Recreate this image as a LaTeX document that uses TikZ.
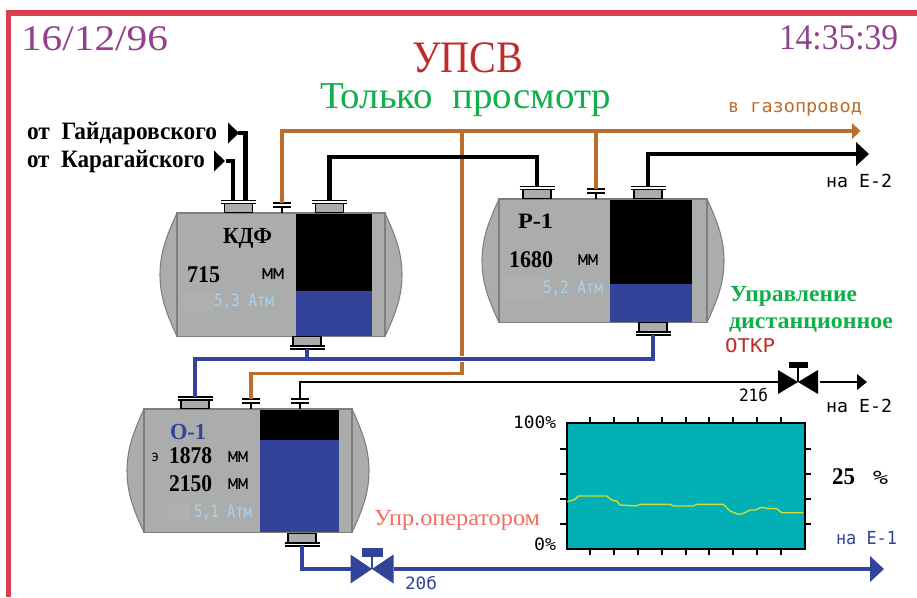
\documentclass[tikz,border=0pt]{standalone}
\usepackage{graphicx}
\usepackage{fontspec}
\setmainfont{Liberation Serif}
\newfontfamily\pixfont{DejaVu Sans Mono}
\definecolor{frameR}{HTML}{DB4052}
\definecolor{dateP}{HTML}{93418F}
\definecolor{titleR}{HTML}{BE2D2A}
\definecolor{okG}{HTML}{0FB04A}
\definecolor{gasO}{HTML}{BC6F2C}
\definecolor{liqB}{HTML}{334399}
\definecolor{tankG}{HTML}{ABADAC}
\definecolor{edgeG}{HTML}{7C7F7E}
\definecolor{atmB}{HTML}{A9D3EE}
\definecolor{oprR}{HTML}{F46D5F}
\definecolor{chartT}{HTML}{00B0B4}
\definecolor{lineY}{HTML}{D8DC30}
\definecolor{lightG}{HTML}{AFB1B0}
\newlength{\pxu}\setlength{\pxu}{0.75pt}
% name, x, baseline, width, size, font/colour commands, text
\newcommand{\lab}[7]{\node[txt] (#1) at (#2,#3) {\resizebox{#4\pxu}{\height}{\fontsize{#5\pxu}{#5\pxu}\selectfont #6{}#7}};}
\newcommand{\tankbody}[6]{% name,x0,y0,xsplit,xblackend,ylevel
  \pgfmathsetmacro{\xa}{#2}\pgfmathsetmacro{\ya}{#3}
  \pgfmathsetmacro{\xb}{#2+208}\pgfmathsetmacro{\yb}{#3+123.5}
  \pgfmathsetmacro{\ym}{#3+61.75}
  \draw[edgeG,line width=0.8pt,fill=tankG] (\xa,\ya) .. controls (\xa-9,\ya+20) and (\xa-17,\ya+38) .. (\xa-17,\ym)
     .. controls (\xa-17,\ym+24) and (\xa-9,\yb-20) .. (\xa,\yb);
  \draw[edgeG,line width=0.8pt,fill=tankG] (\xb,\ya) .. controls (\xb+9,\ya+20) and (\xb+17,\ya+38) .. (\xb+17,\ym)
     .. controls (\xb+17,\ym+24) and (\xb+9,\yb-20) .. (\xb,\yb);
  \draw[edgeG,line width=0.8pt,fill=tankG] (\xa,\ya) rectangle (\xb,\yb);
  \coordinate (#1) at (\xa,\ya);
  \fill[black] (#4,\ya+0.5) rectangle (#5,#6);
  \fill[liqB] (#4,#6) rectangle (#5,\yb-0.5);
}
% name,xc,rect top,rect bottom,line1,line2
\newcommand{\flange}[6]{%
  \node[flangebox,minimum height={(#4-#3)*0.75pt}] (#1) at (#2,{(#3+#4)/2}) {};
  \draw[flangeln] (#2-17.5,#5) -- (#2+17.5,#5) (#2-17.5,#6) -- (#2+17.5,#6);
}
% name,xc,ytop,ytank
\newcommand{\capac}[4]{%
  \draw[flangeln] (#2-9,#3) -- (#2+9,#3) (#2-9,#3+4) -- (#2+9,#3+4) (#2,#3+4) -- (#2,#4);
  \coordinate (#1) at (#2,#3);
}
% name,xc,yc,halfw,halfh,colour,actuator half width,actuator top,actuator bottom
\newcommand{\valve}[9]{%
  \coordinate (#1) at (#2,#3);
  \coordinate (#1L) at (#2-#4,#3);
  \coordinate (#1R) at (#2+#4,#3);
  \fill[#6] (#2-#4,#3-#5) -- (#2,#3) -- (#2-#4,#3+#5) -- cycle;
  \fill[#6] (#2+#4,#3-#5) -- (#2,#3) -- (#2+#4,#3+#5) -- cycle;
  \fill[#6] (#2-#7,#8) rectangle (#2+#7,#9);
  \draw[#6,line width=0.8pt] (#2,#9) -- (#2,#3);
}
% tip pointing right: base x,yc,length,half height,colour
\newcommand{\tip}[5]{\fill[#5] (#1,#2-#4) -- (#1+#3,#2) -- (#1,#2+#4) -- cycle;}
\tikzset{
  x=0.75pt,y=-0.75pt,
  txt/.style={anchor=base west,inner sep=0pt,outer sep=0pt},
  flangebox/.style={draw=black,line width=1pt,fill=tankG,minimum width=21pt,inner sep=0pt,outer sep=0pt},
  flangeln/.style={black,line width=1.2pt},
  gaspipe/.style={gasO,line width=2.3pt},
  blkpipe/.style={black,line width=3.2pt},
  thinpipe/.style={black,line width=2pt},
  liqpipe/.style={liqB,line width=3pt},
  halo/.style={white,line width=5pt},
  chartln/.style={black,line width=1pt},
}
\begin{document}
\begin{tikzpicture}
\useasboundingbox (0,0) rectangle (917,597);
\fill[white] (0,0) rectangle (917,597);
% frame
\fill[frameR] (5.5,10) rectangle (917,15.5);
\fill[frameR] (5.5,10) rectangle (11,597);

% tanks
\tankbody{tk}{177}{213}{295.5}{372}{291}
\fill[lightG] (183,293) rectangle (214,311);
\tankbody{tp}{499}{199}{609.5}{692}{284}
\fill[lightG] (505,278) rectangle (543,298);
\tankbody{to}{144}{409}{260}{339}{439.5}
\fill[lightG] (169,505) rectangle (190,521);

% flanges
\flange{fka}{238.5}{203.5}{212.5}{200.5}{203.5}
\flange{fkb}{329.5}{203.5}{212.5}{200.5}{203.5}
\flange{fkc}{307}{336.5}{346}{346}{349}
\flange{fpa}{537}{189.5}{198.5}{186.5}{189.5}
\flange{fpb}{648}{189.5}{198.5}{186.5}{189.5}
\flange{fpc}{653}{322.5}{332}{332}{335}
\flange{foa}{195}{399.5}{408.5}{397}{400}
\flange{foc}{302}{533.5}{543}{543}{546}
% capacitor taps
\capac{cka}{282}{203}{213}
\capac{cpa}{596}{189}{199}
\capac{coa}{251}{399}{409}
\capac{cob}{300}{399}{409}

% free ends
\coordinate (gasEnd) at (853,131);
\coordinate (e2End) at (857,154);
\coordinate (gaidEnd) at (238,133);
\coordinate (karEnd) at (226,161);
\coordinate (oEnd) at (870,569);
\coordinate (thinEnd) at (857,382);

% gas lines
\draw[gaspipe] (cka) -- (282,131) -- (gasEnd);
\draw[gaspipe] (462,131) -- (462,373.5) -- (251,373.5) -- (coa);
\draw[gaspipe] (596,131) -- (cpa);
\tip{852}{131}{8.5}{8}{gasO}

% black pipes
\draw[blkpipe] (gaidEnd) -- (245.5,133) -- (245.5,201);
\draw[blkpipe] (karEnd) -- (233,161) -- (233,201);
\tip{228}{133}{11}{10.5}{black}
\tip{214}{161}{11}{10.5}{black}
\draw[blkpipe] (329.5,201) -- (329.5,157) -- (537,157) -- (537,187);
\draw[blkpipe] (648,187) -- (648,154) -- (e2End);
\tip{856}{154}{13}{12}{black}

% liquid lines with a white halo where they cross the gas line
\draw[halo] (450,359) -- (474,359);
\draw[liqpipe] (653,335) -- (653,359) -- (195,359) -- (195,397);
\draw[liqpipe] (307,349) -- (307,359);

% thin black line and valve 21
\valve{vb}{798}{382}{20}{12}{black}{9.5}{362}{368}
\draw[thinpipe] (cob) -- (300,382) -- (vbL);
\draw[thinpipe] (vbR) ++(2,0) -- (thinEnd);
\tip{857}{382}{10}{8}{black}

% liquid line and valve 20
\valve{va}{372}{569}{21.5}{14.5}{liqB}{10.5}{548}{557}
\draw[liqpipe] (302,546) -- (302,569) -- (vaL);
\draw[liqpipe] (vaR) -- (oEnd);
\tip{870}{569}{14}{13}{liqB}

% chart
\node[draw=black,line width=1.1pt,fill=chartT,minimum width={238*0.75pt},minimum height={126*0.75pt},inner sep=0pt] (chart) at (686,486) {};
\foreach \tx in {590,614,638,662,686,709,733,757,781}{
  \draw[chartln] (\tx,417) -- (\tx,423) (\tx,549) -- (\tx,555);
}
\foreach \ty in {449,474,499,524}{
  \draw[chartln] (560,\ty) -- (567,\ty) (805,\ty) -- (811,\ty);
}
\draw[lineY,line width=1pt,x=0.25pt,y=-0.25pt,shift={(460*3,300*3)}]
  (322,605)--(345,598)--(355,588)--(440,588)--(455,600)--(470,603)--(480,615)--(530,618)--(540,613)--(630,613)--(640,618)--(700,618)--(710,613)--(790,613)--(810,633)--(835,643)--(850,640)--(870,630)--(885,630)--(905,622)--(920,625)--(950,626)--(965,638)--(1030,638);

% texts
\lab{date}{21}{50}{147}{36}{\color{dateP}}{16/12/96}
\lab{time}{779}{49}{119}{36}{\color{dateP}}{14:35:39}
\lab{title}{412}{72}{111}{45}{\color{titleR}}{УПСВ}
\lab{mode}{320}{108}{291}{38}{\color{okG}}{Только\ \ просмотр}
\lab{gaid}{27}{139}{190}{25}{\bfseries}{от\ \ Гайдаровского}
\lab{kar}{27}{167}{178}{25}{\bfseries}{от\ \ Карагайского}
\lab{gasl}{728}{112}{134}{18}{\pixfont\color{gasO}}{в газопровод}
\lab{e2a}{826}{187}{66}{18}{\pixfont}{на Е-2}
\lab{kdf}{223}{243}{49}{23}{\bfseries}{КДФ}
\lab{kv}{187}{282}{33}{24}{\bfseries}{715}
\lab{kmm}{262}{279}{22}{20}{\pixfont}{мм}
\lab{katm}{214}{306}{60}{17}{\pixfont\color{atmB}}{5,3 Атм}
\lab{pn}{518}{228}{35}{22}{\bfseries}{Р-1}
\lab{pv}{509}{267}{44}{24}{\bfseries}{1680}
\lab{pmm}{578}{265}{20}{20}{\pixfont}{мм}
\lab{patm}{543}{293}{60}{17}{\pixfont\color{atmB}}{5,2 Атм}
\lab{on}{170}{439}{36}{23}{\bfseries\color{liqB}}{О-1}
\lab{oe}{151}{461}{8}{15}{\pixfont}{э}
\lab{ov}{169}{463}{43}{24}{\bfseries}{1878}
\lab{omm}{228}{462}{20}{20}{\pixfont}{мм}
\lab{ow}{169}{491}{43}{24}{\bfseries}{2150}
\lab{omb}{228}{489}{20}{20}{\pixfont}{мм}
\lab{oatm}{194}{517}{58}{17}{\pixfont\color{atmB}}{5,1 Атм}
\lab{opr}{374}{525}{166}{23}{\color{oprR}}{Упр.оператором}
\lab{ctl}{730}{301}{127}{23}{\bfseries\color{okG}}{Управление}
\lab{ctm}{729}{328}{164}{23}{\bfseries\color{okG}}{дистанционное}
\lab{otk}{725}{352}{50}{19}{\pixfont\color{titleR}}{ОТКР}
\lab{n21}{739}{401}{29}{17}{\pixfont}{21б}
\lab{e2b}{826}{412}{66}{18}{\pixfont}{на Е-2}
\lab{hund}{513}{428}{43}{17}{\pixfont}{100\%}
\lab{zero}{534}{550}{22}{17}{\pixfont}{0\%}
\lab{pc}{832}{484}{23}{24}{\bfseries}{25}
\lab{pct}{873}{484}{15}{19}{\pixfont}{\%}
\lab{e1}{836}{544}{61}{18}{\pixfont\color{liqB}}{на Е-1}
\lab{n20}{405}{589}{32}{17}{\pixfont\color{liqB}}{20б}
\end{tikzpicture}
\end{document}
